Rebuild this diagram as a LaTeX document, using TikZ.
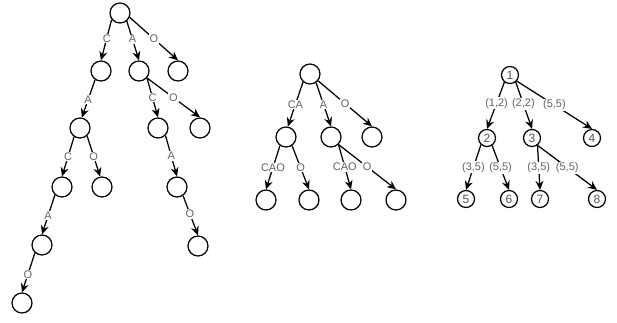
\documentclass[tikz,border=0pt]{standalone}
\usepackage{fontspec}
\setmainfont{Liberation Sans}
\usetikzlibrary{arrows.meta}
\definecolor{lblgray}{HTML}{646464}
\definecolor{numgray}{HTML}{555555}
\tikzset{
  big/.style={circle, draw=black, line width=1.25pt, minimum size=20pt, inner sep=0pt, fill=white},
  small/.style={circle, draw=black, line width=1.25pt, minimum size=17pt, inner sep=0pt, fill=white,
    text=numgray, font=\fontsize{12}{13}\selectfont},
  arr/.style={draw=black, line width=1.25pt, -{Stealth[length=9pt,width=8pt,inset=3pt]}},
  lbl/.style={fill=white, inner sep=0.8pt, text=lblgray, font=\fontsize{11}{12}\selectfont}
}
\begin{document}
\begin{tikzpicture}[x=1pt,y=-1pt]
\useasboundingbox (0,0) rectangle (617,323);
% tree 1
\node[big] (r1) at (120,13) {};
\node[big] (a1) at (101,71) {};
\node[big] (b1) at (139,71) {};
\node[big] (c1) at (178,71) {};
\node[big] (d1) at (80,128) {};
\node[big] (e1) at (158,128) {};
\node[big] (f1) at (200,128) {};
\node[big] (g1) at (62,187) {};
\node[big] (h1) at (102,187) {};
\node[big] (i1) at (177,187) {};
\node[big] (j1) at (42,245) {};
\node[big] (k1) at (198,246) {};
\node[big] (l1) at (22,303) {};
\draw[arr] (r1.218) -- node[lbl,pos=0.46] {C} (a1.north);
\draw[arr] (r1.310) -- node[lbl,pos=0.46] {A} (b1.north);
\draw[arr] (r1.336) -- node[lbl,pos=0.5] {O} (c1.north);
\draw[arr] (a1.236) -- node[lbl,pos=0.53] {A} (d1.80);
\draw[arr] (b1.319) -- node[lbl,pos=0.5] {C} (e1.north);
\draw[arr] (b1.319) -- node[lbl,pos=0.5] {O} (f1.north);
\draw[arr] (d1.236) -- node[lbl,pos=0.5] {C} (g1.north);
\draw[arr] (d1.312) -- node[lbl,pos=0.5] {O} (h1.100);
\draw[arr] (e1.315) -- node[lbl,pos=0.5] {A} (i1.north);
\draw[arr] (g1.228) -- node[lbl,pos=0.53] {A} (j1.north);
\draw[arr] (i1.305) -- node[lbl,pos=0.46] {O} (k1.north);
\draw[arr] (j1.228) -- node[lbl,pos=0.55] {O} (l1.north);
% tree 2
\node[big] (r2) at (310,74) {};
\node[big] (a2) at (286,137) {};
\node[big] (b2) at (331,137) {};
\node[big] (c2) at (372,137) {};
\node[big] (d2) at (266,200) {};
\node[big] (e2) at (309,200) {};
\node[big] (f2) at (351,200) {};
\node[big] (g2) at (396,200) {};
\draw[arr] (r2.229) -- node[lbl] {CA} (a2.80);
\draw[arr] (r2.305) -- node[lbl] {A} (b2.north);
\draw[arr] (r2.320) -- node[lbl] {O} (c2.north);
\draw[arr] (a2.235) -- node[lbl] {CAO} (d2.north);
\draw[arr] (a2.305) -- node[lbl] {O} (e2.north);
\draw[arr] (b2.315) -- node[lbl] {CAO} (f2.north);
\draw[arr] (b2.315) -- node[lbl] {O} (g2.north);
% tree 3
\node[small] (n1) at (510,75) {1};
\node[small] (n2) at (487,138) {2};
\node[small] (n3) at (532,138) {3};
\node[small] (n4) at (592,138) {4};
\node[small] (n5) at (466,199) {5};
\node[small] (n6) at (509,199) {6};
\node[small] (n7) at (540,199) {7};
\node[small] (n8) at (597,199) {8};
\draw[arr] (n1.232) -- node[lbl,pos=0.45] {(1,2)} (n2.north);
\draw[arr] (n1.309) -- node[lbl,pos=0.47] {(2,2)} (n3.north);
\draw[arr] (n1.318) -- node[lbl,pos=0.5] {(5,5)} (n4.north);
\draw[arr] (n2.228) -- node[lbl] {(3,5)} (n5.north);
\draw[arr] (n2.304) -- node[lbl] {(5,5)} (n6.north);
\draw[arr] (n3.307) -- node[lbl] {(3,5)} (n7.north);
\draw[arr] (n3.307) -- node[lbl] {(5,5)} (n8.north);
\end{tikzpicture}
\end{document}
